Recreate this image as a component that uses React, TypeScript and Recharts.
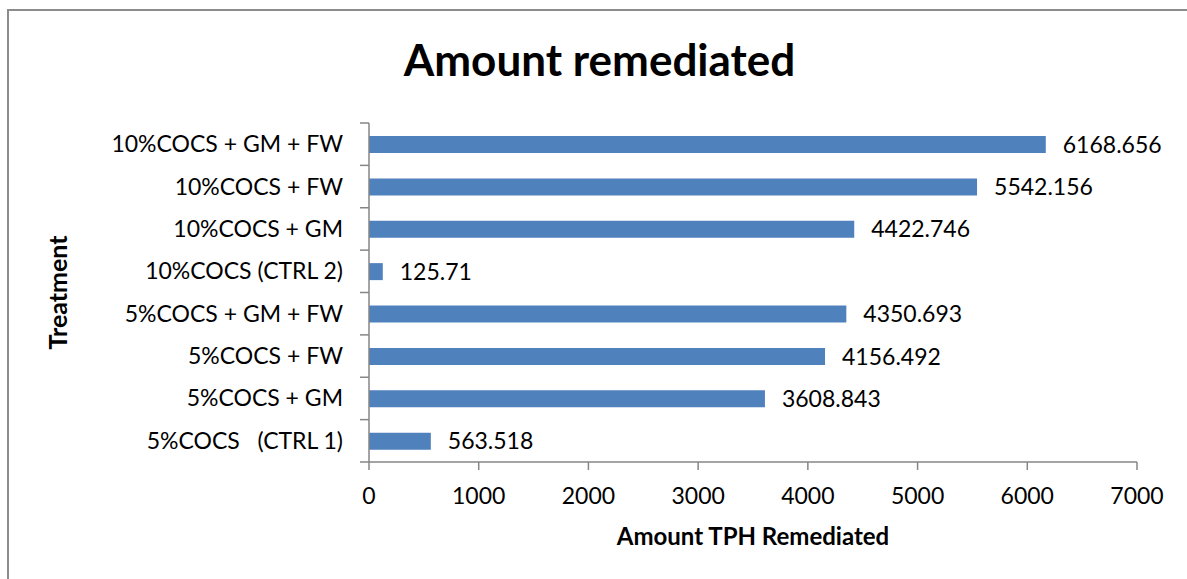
import { BarChart, Bar, XAxis, YAxis, LabelList } from "recharts";

const treatments = [
  "10%COCS + GM + FW",
  "10%COCS + FW",
  "10%COCS + GM",
  "10%COCS (CTRL 2)",
  "5%COCS + GM + FW",
  "5%COCS + FW",
  "5%COCS + GM",
  "5%COCS\u00a0\u00a0\u00a0(CTRL 1)",
];
const amounts = [6168.656, 5542.156, 4422.746, 125.71, 4350.693, 4156.492, 3608.843, 563.518];
const xTicks = [0, 1000, 2000, 3000, 4000, 5000, 6000, 7000];

const data = treatments.map((t, i) => ({ treatment: t, amount: amounts[i] }));

const W = 1187;
const H = 579;
const MARGIN = { top: 123, right: 50, bottom: 27, left: 40 };
const Y_AXIS_W = 329;
const X_AXIS_H = 90;
const AXIS_X = MARGIN.left + Y_AXIS_W;
const PLOT_BOTTOM = H - MARGIN.bottom - X_AXIS_H;
const BAND = (PLOT_BOTTOM - MARGIN.top) / treatments.length;

const FONT = "Lato, 'Open Sans', sans-serif";
const AXIS = "#868686";
const BAR = "#4f81bd";

function TreatmentTick(props: any) {
  const { y, payload, index } = props;
  return (
    <g>
      <line x1={AXIS_X - 9} x2={AXIS_X} y1={y - BAND / 2} y2={y - BAND / 2} stroke={AXIS} strokeWidth={1.5} />
      {index === treatments.length - 1 && (
        <line x1={AXIS_X - 9} x2={AXIS_X} y1={y + BAND / 2} y2={y + BAND / 2} stroke={AXIS} strokeWidth={1.5} />
      )}
      <text x={AXIS_X - 26} y={y} dy="0.35em" textAnchor="end" fontSize={23} fill="#000" fontFamily={FONT}>
        {payload.value}
      </text>
    </g>
  );
}

function TreatmentLabel(props: any) {
  const { viewBox } = props;
  const cx = viewBox.x + 27;
  const cy = viewBox.y + viewBox.height / 2;
  return (
    <text x={cx} y={cy} transform={`rotate(-90 ${cx} ${cy})`} textAnchor="middle" fontSize={25} fontWeight="bold" fill="#000" fontFamily={FONT}>
      Treatment
    </text>
  );
}

export default function App() {
  return (
    <div style={{ position: "absolute", left: 0, top: 0, width: W, height: H, overflow: "hidden", background: "#fff", fontFamily: FONT }}>
      <div style={{ position: "absolute", left: 7, top: 9, width: W + 20, height: H + 20, border: "2px solid #8c8c8c", boxSizing: "border-box" }} />
      <div style={{ position: "absolute", left: 0, top: 33, width: W, textAlign: "center", fontSize: 44, fontWeight: "bold", lineHeight: "52px", color: "#000", paddingLeft: 12, boxSizing: "border-box" }}>
        Amount remediated
      </div>
      <div style={{ position: "absolute", left: 0, top: 0 }}>
        <BarChart width={W} height={H} data={data} layout="vertical" margin={MARGIN}>
          <XAxis
            type="number"
            domain={[0, 7000]}
            ticks={xTicks}
            height={X_AXIS_H}
            axisLine={{ stroke: AXIS, strokeWidth: 1.5 }}
            tickLine={{ stroke: AXIS, strokeWidth: 1.5 }}
            tickSize={8}
            tickMargin={18}
            tick={{ fill: "#000", fontSize: 23, fontFamily: FONT }}
            label={{ value: "Amount TPH Remediated", position: "insideBottom", offset: 7, fill: "#000", fontSize: 24, fontWeight: "bold", fontFamily: FONT }}
          />
          <YAxis
            type="category"
            dataKey="treatment"
            width={Y_AXIS_W}
            axisLine={{ stroke: AXIS, strokeWidth: 1.5 }}
            tickLine={false}
            tick={<TreatmentTick />}
            interval={0}
            label={{ content: <TreatmentLabel /> }}
          />
          <Bar dataKey="amount" fill={BAR} barSize={17} isAnimationActive={false}>
            <LabelList dataKey="amount" position="right" offset={17} fill="#000" fontSize={23} fontFamily={FONT} />
          </Bar>
        </BarChart>
      </div>
    </div>
  );
}
